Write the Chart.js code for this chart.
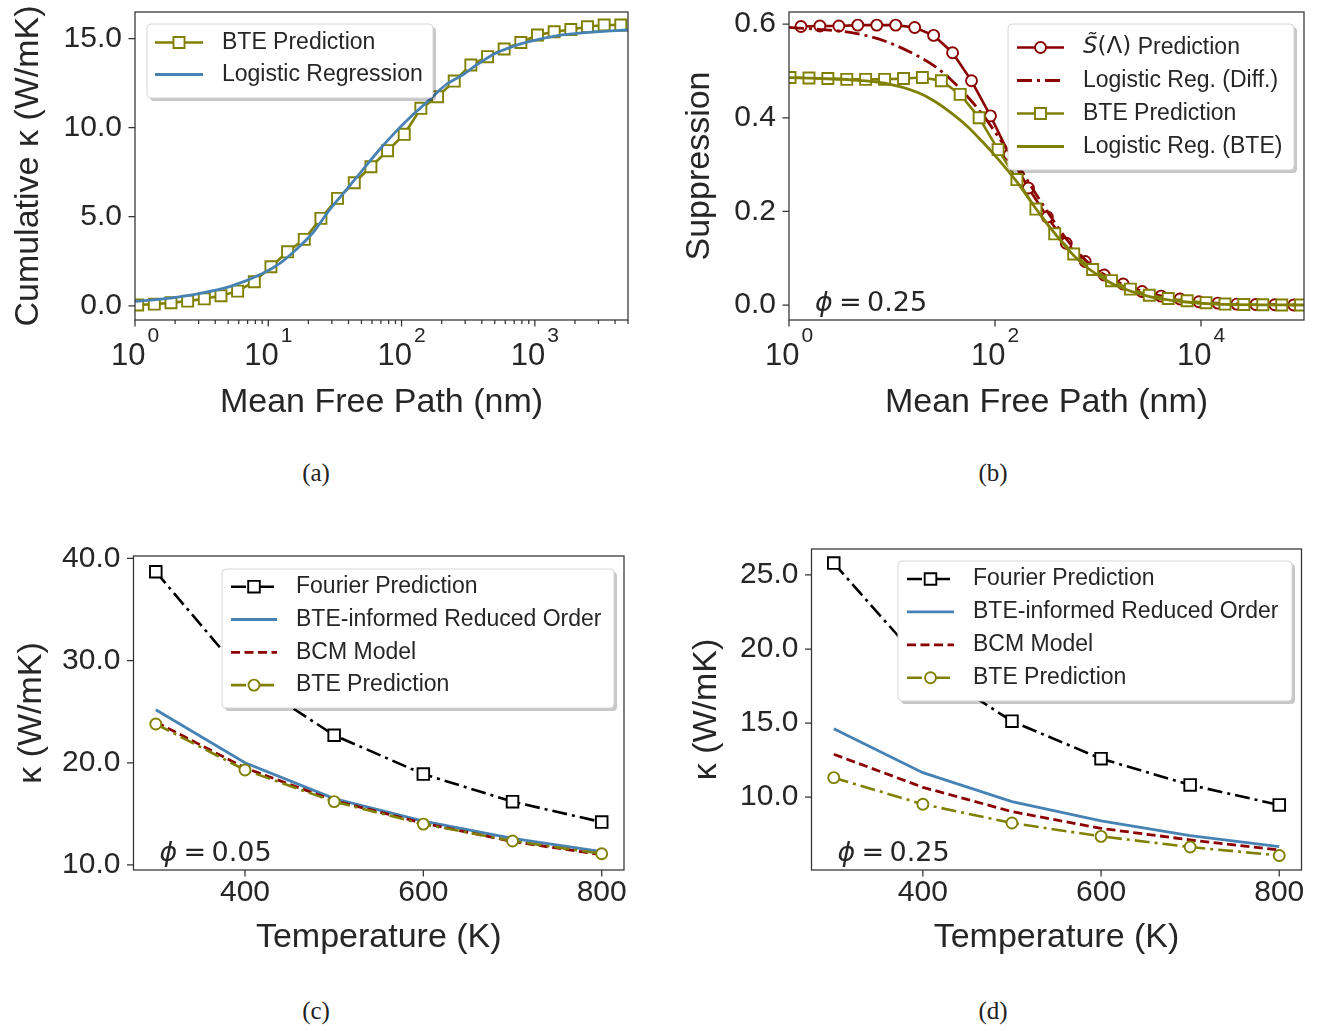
<!DOCTYPE html>
<html>
<head>
<meta charset="utf-8">
<script src="https://cdn.jsdelivr.net/npm/chart.js@4.4.1/dist/chart.umd.min.js"></script>
<style>
  body { margin: 0; background: #fff; width: 1332px; height: 1031px; position: relative; overflow: hidden; }
  canvas { position: absolute; }
  .cap { position: absolute; width: 100px; text-align: center; font: 25px "Liberation Serif", serif; color: #222; }
</style>
</head>
<body>
<canvas id="ca" width="660" height="440" style="left:0;top:0"></canvas>
<canvas id="cb" width="662" height="440" style="left:670px;top:0"></canvas>
<canvas id="cc" width="660" height="440" style="left:0;top:530px"></canvas>
<canvas id="cd" width="662" height="440" style="left:670px;top:530px"></canvas>
<div class="cap" style="left:266px;top:459px">(a)</div>
<div class="cap" style="left:943px;top:459px">(b)</div>
<div class="cap" style="left:266px;top:997px">(c)</div>
<div class="cap" style="left:943px;top:997px">(d)</div>
<script>
const OLIVE = '#808000', RED = '#8b0000', BLUE = '#4682b4', BLACK = '#000000';
const INK = '#262626', SPINE = '#333333';
const SANS = '"Liberation Sans", Arial, sans-serif';

// (a) cumulative conductivity vs mean free path
const aMfp = [1.047, 1.396, 1.862, 2.483, 3.311, 4.416, 5.888, 7.852, 10.47, 13.96,
  18.62, 24.83, 33.11, 44.16, 58.88, 78.52, 104.7, 139.6, 186.2, 248.3,
  331.1, 441.6, 588.8, 785.2, 1047, 1396, 1862, 2483, 3311, 4416];
const aBtePred = [0.04, 0.09, 0.17, 0.26, 0.39, 0.56, 0.82, 1.35, 2.19, 3.03,
  3.73, 4.91, 6.03, 6.91, 7.81, 8.71, 9.63, 11.09, 11.74, 12.62,
  13.52, 13.99, 14.42, 14.79, 15.21, 15.39, 15.52, 15.67, 15.77, 15.77];
const aFitMfp = [1, 1.63, 2.89, 5.14, 9.12, 12.2, 16.2, 21.6, 28.7, 38.3, 51.0, 67.9,
  90.6, 121, 161, 214, 286, 380, 507, 676, 900, 1600, 2840, 5000];
const aFitKappa = [0.25, 0.39, 0.66, 1.07, 1.82, 2.38, 3.16, 4.10, 5.37, 6.50, 7.62, 8.75,
  9.78, 10.71, 11.55, 12.40, 12.96, 13.61, 14.18, 14.55, 14.83, 15.21, 15.39, 15.49];
const aYTicks = [0, 5, 10, 15];
const aXDecades = [0, 1, 2, 3];

// (b) suppression vs mean free path
const bCircMfp = [1.306, 1.995, 3.048, 4.656, 7.112, 10.86, 16.60, 25.35, 38.73, 59.16,
  90.36, 138.0, 210.9, 322.1, 492.0, 751.6, 1148, 1754, 2679, 4093,
  6252, 9550, 14588, 22284, 34041, 52000, 79433];
const bSPred = [0.595, 0.596, 0.596, 0.598, 0.598, 0.598, 0.593, 0.576, 0.539, 0.479,
  0.404, 0.321, 0.250, 0.188, 0.132, 0.093, 0.064, 0.045, 0.029, 0.019,
  0.013, 0.007, 0.004, 0.002, 0.001, 0.0005, 0.0];
const bSqMfp = [1.023, 1.563, 2.384, 3.639, 5.546, 8.472, 12.94, 19.72, 30.13, 45.94,
  70.15, 107.2, 163.3, 249.5, 380.2, 580.8, 887.2, 1352, 2065, 3148,
  4808, 7345, 11194, 17100, 26062, 39811, 60814, 92683];
const bBtePred = [0.486, 0.485, 0.484, 0.482, 0.482, 0.482, 0.484, 0.486, 0.479, 0.450,
  0.400, 0.332, 0.268, 0.205, 0.152, 0.109, 0.076, 0.052, 0.034, 0.021,
  0.014, 0.009, 0.005, 0.002, 0.001, 0.0005, 0.0, 0.0];
const bFitMfp = [1, 1.92, 4.03, 8.47, 17.8, 25.7, 37.2, 53.7, 77.6, 112, 166, 240,
  347, 501, 724, 1047, 1514, 3162, 6761, 14125, 100000];
const bFitDiff = [0.593, 0.589, 0.582, 0.564, 0.532, 0.511, 0.482, 0.446, 0.404, 0.354, 0.300, 0.243,
  0.189, 0.139, 0.100, 0.071, 0.050, 0.025, 0.011, 0.004, 0.0];
const bFitBte = [0.486, 0.484, 0.481, 0.474, 0.454, 0.436, 0.411, 0.382, 0.346, 0.307, 0.261, 0.211,
  0.164, 0.121, 0.086, 0.061, 0.041, 0.018, 0.007, 0.002, 0.0];
const bYTicks = [0, 0.2, 0.4, 0.6];
const bXDecades = [0, 2, 4];

// (c), (d) conductivity vs temperature
const temps = [300, 400, 500, 600, 700, 800];
const tempTicks = [400, 600, 800];
const cFourier = [38.7, 28.4, 22.7, 18.9, 16.2, 14.2];
const cReduced = [25.2, 20.0, 16.5, 14.3, 12.6, 11.3];
const cBcm = [24.0, 19.5, 16.3, 14.1, 12.3, 11.0];
const cBte = [23.8, 19.3, 16.2, 14.0, 12.35, 11.1];
const cYTicks = [10, 20, 30, 40];
const dFourier = [25.8, 19.0, 15.13, 12.6, 10.83, 9.48];
const dReduced = [14.62, 11.66, 9.70, 8.40, 7.41, 6.67];
const dBcm = [12.9, 10.67, 9.03, 7.9, 7.12, 6.44];
const dBte = [11.32, 9.53, 8.26, 7.36, 6.64, 6.07];
const dYTicks = [10, 15, 20, 25];

const DASHDOT = [15, 5, 3, 5];
const DASHED = [9, 4.5];
const TICK_FONT = 30;

function pts(xs, ys) { return xs.map((x, i) => ({ x: x, y: ys[i] })); }

function logTickList(decades, max, withMinor) {
  const list = [];
  decades.forEach(d => list.push({ value: Math.pow(10, d), exp: d }));
  if (withMinor) {
    for (let d = 0; d < 4; d++) {
      for (let m = 2; m <= 9; m++) {
        const v = m * Math.pow(10, d);
        if (v <= max) list.push({ value: v, minor: true });
      }
    }
  }
  return list;
}

function markerLine(label, color, data, shape, radius, dash) {
  return {
    label: label, data: data, borderColor: color, borderWidth: 2.6, borderDash: dash || [],
    pointStyle: shape, pointRadius: radius, pointHoverRadius: radius, pointBorderWidth: 1.9,
    pointBorderColor: color, pointBackgroundColor: '#ffffff', fill: false, tension: 0
  };
}
function plainLine(label, color, data, dash, smooth) {
  return {
    label: label, data: data, borderColor: color, borderWidth: 2.8, borderDash: dash || [],
    pointRadius: 0, pointHoverRadius: 0, fill: false,
    cubicInterpolationMode: smooth ? 'monotone' : 'default', tension: 0
  };
}

function drawMarker(ctx, ds, cx, cy) {
  ctx.lineWidth = ds.pointBorderWidth;
  ctx.strokeStyle = ds.pointBorderColor;
  ctx.fillStyle = '#ffffff';
  ctx.beginPath();
  if (ds.pointStyle === 'rect') {
    const s = ds.pointRadius * Math.SQRT1_2;
    ctx.rect(cx - s, cy - s, 2 * s, 2 * s);
  } else {
    ctx.arc(cx, cy, ds.pointRadius, 0, Math.PI * 2);
  }
  ctx.fill();
  ctx.stroke();
}

const deco = {
  id: 'deco',
  afterDatasetsDraw(chart, args, o) {
    const ctx = chart.ctx, a = chart.chartArea;
    const xs = chart.scales.x, ys = chart.scales.y;
    ctx.save();
    ctx.setLineDash([]);
    ctx.strokeStyle = SPINE;
    ctx.lineWidth = 1.25;
    ctx.strokeRect(a.left, a.top, a.right - a.left, a.bottom - a.top);
    ctx.beginPath();
    xs.ticks.forEach(t => {
      const p = xs.getPixelForValue(t.value);
      if (p < a.left - 1 || p > a.right + 1) return;
      ctx.moveTo(p, a.bottom);
      ctx.lineTo(p, a.bottom + (t.minor ? 4 : 6.5));
    });
    ys.ticks.forEach(t => {
      const p = ys.getPixelForValue(t.value);
      ctx.moveTo(a.left, p);
      ctx.lineTo(a.left - 6.5, p);
    });
    ctx.stroke();

    // log tick labels with superscripts
    if (o.logLabels) {
      ctx.fillStyle = INK;
      ctx.textAlign = 'left';
      ctx.textBaseline = 'alphabetic';
      const base = a.bottom + 45;
      xs.ticks.forEach(t => {
        if (t.exp === undefined) return;
        const p = xs.getPixelForValue(t.value);
        ctx.font = '31px ' + SANS;
        const w1 = ctx.measureText('10').width;
        ctx.font = '21px ' + SANS;
        const w2 = ctx.measureText(String(t.exp)).width;
        const x0 = p - (w1 + 2 + w2) / 2;
        ctx.font = '31px ' + SANS;
        ctx.fillText('10', x0, base);
        ctx.font = '21px ' + SANS;
        ctx.fillText(String(t.exp), x0 + w1 + 2, base - 23);
      });
    }

    // phi annotation
    if (o.phi) {
      ctx.fillStyle = INK;
      ctx.textAlign = 'left';
      ctx.textBaseline = 'alphabetic';
      const x0 = a.left + 26, yb = a.bottom - 9;
      ctx.font = 'italic 27px "DejaVu Sans"';
      ctx.fillText('\u03d5', x0, yb);
      ctx.font = '27px "DejaVu Sans"';
      ctx.fillText('=', x0 + 24, yb);
      ctx.fillText(o.phi, x0 + 52, yb);
    }

    // legend
    const L = o.legend;
    if (L) {
      ctx.fillStyle = 'rgba(0,0,0,0.22)';
      ctx.beginPath();
      ctx.roundRect(L.x + 3, L.y + 3, L.w, L.h, 4);
      ctx.fill();
      ctx.fillStyle = '#ffffff';
      ctx.strokeStyle = '#d6d6d6';
      ctx.lineWidth = 1;
      ctx.beginPath();
      ctx.roundRect(L.x, L.y, L.w, L.h, 4);
      ctx.fill();
      ctx.stroke();
      chart.data.datasets.forEach((ds, i) => {
        const y = L.row0 + L.gap * i;
        ctx.strokeStyle = ds.borderColor;
        ctx.lineWidth = ds.borderWidth;
        ctx.setLineDash(ds.borderDash || []);
        ctx.beginPath();
        ctx.moveTo(L.hx0, y);
        ctx.lineTo(L.hx1, y);
        ctx.stroke();
        ctx.setLineDash([]);
        if (ds.pointRadius > 0) drawMarker(ctx, ds, (L.hx0 + L.hx1) / 2, y);
        const parts = ds.legendParts || [[ds.label, '23px ' + SANS]];
        let x = L.tx;
        ctx.fillStyle = INK;
        ctx.textAlign = 'left';
        ctx.textBaseline = 'middle';
        parts.forEach(p => {
          ctx.font = p[1];
          ctx.fillText(p[0], x, y);
          x += ctx.measureText(p[0]).width;
        });
      });
    }
    ctx.restore();
  }
};

function makeChart(id, c) {
  c.datasets.forEach((ds, i) => { ds.order = -i; });
  const isLog = c.xType === 'logarithmic';
  return new Chart(document.getElementById(id), {
    type: 'line',
    data: { datasets: c.datasets },
    options: {
      responsive: false,
      animation: false,
      events: [],
      layout: { padding: { top: c.padTop, right: c.padRight, left: 0, bottom: 0 } },
      plugins: {
        legend: { display: false },
        tooltip: { enabled: false },
        deco: { legend: c.legend, phi: c.phi, logLabels: isLog }
      },
      scales: {
        x: {
          type: c.xType, min: c.xMin, max: c.xMax, position: 'bottom',
          grid: { display: false, drawTicks: false },
          border: { display: false },
          ticks: {
            display: !isLog, autoSkip: false, maxRotation: 0, padding: 5,
            color: INK, font: { family: SANS, size: TICK_FONT },
            callback: v => String(v)
          },
          title: {
            display: true, text: c.xTitle, color: INK,
            font: { family: SANS, size: 34, lineHeight: 1.2 },
            padding: { top: 0, bottom: c.xTitlePad }
          },
          afterBuildTicks: s => { s.ticks = c.xTicks.map(t => Object.assign({}, t)); },
          afterFit: s => { s.height = c.xH; s.paddingLeft = 0; s.paddingRight = 0; }
        },
        y: {
          type: 'linear', min: c.yMin, max: c.yMax, position: 'left',
          grid: { display: false, drawTicks: false },
          border: { display: false },
          ticks: {
            autoSkip: false, padding: 13, color: INK,
            font: { family: SANS, size: TICK_FONT },
            callback: v => v.toFixed(1)
          },
          title: {
            display: true, text: c.yTitle, color: INK,
            font: { family: SANS, size: 34, lineHeight: 1.2 },
            padding: { top: c.yTitlePad, bottom: 0 }
          },
          afterBuildTicks: s => { s.ticks = c.yTicks.map(v => ({ value: v })); },
          afterFit: s => { s.width = c.yW; s.paddingTop = 0; s.paddingBottom = 0; }
        }
      }
    },
    plugins: [deco]
  });
}

makeChart('ca', {
  xType: 'logarithmic', xMin: 1, xMax: 5000,
  xTicks: logTickList(aXDecades, 5000, true),
  yMin: -0.8, yMax: 16.5, yTicks: aYTicks,
  yW: 135, xH: 120, padTop: 12, padRight: 32,
  xTitle: 'Mean Free Path (nm)', xTitlePad: 16.6,
  yTitle: 'Cumulative \u03ba (W/mK)', yTitlePad: 8,
  legend: { x: 147, y: 24, w: 286, h: 74, row0: 42.5, gap: 32, hx0: 155, hx1: 203, tx: 222 },
  datasets: [
    markerLine('BTE Prediction', OLIVE, pts(aMfp, aBtePred), 'rect', 7.8),
    plainLine('Logistic Regression', BLUE, pts(aFitMfp, aFitKappa), [], true)
  ]
});

const sPred = markerLine('S(\u039b) Prediction', RED, pts(bCircMfp, bSPred), 'circle', 5.5);
sPred.legendParts = [['S\u0303', 'italic 23px "DejaVu Sans"'], ['(\u039b)', '23px "DejaVu Sans"'], [' Prediction', '23px ' + SANS]];
makeChart('cb', {
  xType: 'logarithmic', xMin: 1, xMax: 100000,
  xTicks: logTickList(bXDecades, 100000, false),
  yMin: -0.032, yMax: 0.626, yTicks: bYTicks,
  yW: 119, xH: 120, padTop: 12, padRight: 28,
  xTitle: 'Mean Free Path (nm)', xTitlePad: 16.6,
  yTitle: 'Suppression', yTitlePad: 9.6,
  phi: '0.25',
  legend: { x: 338, y: 24, w: 286, h: 146, row0: 47.5, gap: 33, hx0: 347, hx1: 394, tx: 413 },
  datasets: [
    sPred,
    plainLine('Logistic Reg. (Diff.)', RED, pts(bFitMfp, bFitDiff), DASHDOT, true),
    markerLine('BTE Prediction', OLIVE, pts(bSqMfp, bBtePred), 'rect', 7.8),
    plainLine('Logistic Reg. (BTE)', OLIVE, pts(bFitMfp, bFitBte), [], true)
  ]
});

function tempDatasets(fourier, reduced, bcm, bte) {
  return [
    markerLine('Fourier Prediction', BLACK, pts(temps, fourier), 'rect', 8.2, DASHDOT),
    plainLine('BTE-informed Reduced Order', BLUE, pts(temps, reduced), [], false),
    plainLine('BCM Model', RED, pts(temps, bcm), DASHED, false),
    markerLine('BTE Prediction', OLIVE, pts(temps, bte), 'circle', 5.5, DASHDOT)
  ];
}

makeChart('cc', {
  xType: 'linear', xMin: 275, xMax: 825,
  xTicks: tempTicks.map(v => ({ value: v })),
  yMin: 9.51, yMax: 40.24, yTicks: cYTicks,
  yW: 133.5, xH: 100, padTop: 26, padRight: 36,
  xTitle: 'Temperature (K)', xTitlePad: 12,
  yTitle: '\u03ba (W/mK)', yTitlePad: 11,
  phi: '0.05',
  legend: { x: 222, y: 39, w: 392, h: 139, row0: 56.7, gap: 32.8, hx0: 231, hx1: 277, tx: 296 },
  datasets: tempDatasets(cFourier, cReduced, cBcm, cBte)
});

makeChart('cd', {
  xType: 'linear', xMin: 275, xMax: 825,
  xTicks: tempTicks.map(v => ({ value: v })),
  yMin: 5.09, yMax: 26.75, yTicks: dYTicks,
  yW: 141.5, xH: 100, padTop: 19, padRight: 30.5,
  xTitle: 'Temperature (K)', xTitlePad: 12,
  yTitle: '\u03ba (W/mK)', yTitlePad: 16,
  phi: '0.25',
  legend: { x: 228, y: 31, w: 394, h: 140, row0: 49, gap: 32.9, hx0: 237, hx1: 284, tx: 303 },
  datasets: tempDatasets(dFourier, dReduced, dBcm, dBte)
});
</script>
</body>
</html>
